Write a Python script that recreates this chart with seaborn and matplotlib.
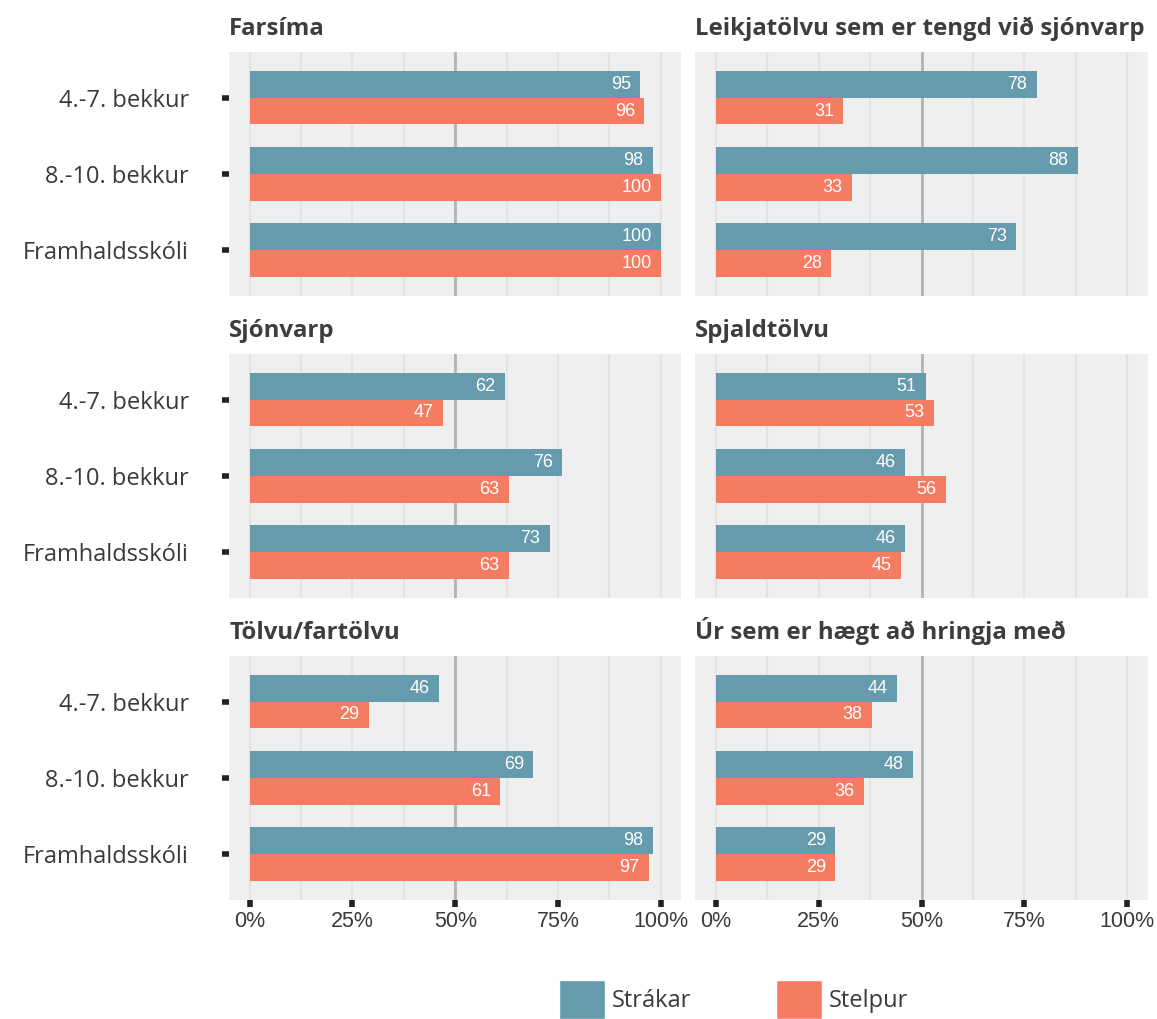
import pandas as pd
import seaborn as sns
import numpy as np
import matplotlib.pyplot as plt
from matplotlib.patches import Patch

# data
flokkar = ["Farsíma", "Leikjatölvu sem er tengd við sjónvarp", "Sjónvarp",
           "Spjaldtölvu", "Tölvu/fartölvu", "Úr sem er hægt að hringja með"]
stig = ["4.-7. bekkur", "8.-10. bekkur", "Framhaldsskóli"]
kyn = ["Strákar", "Stelpur"]

strakar = [[95, 98, 100], [78, 88, 73], [62, 76, 73],
           [51, 46, 46], [46, 69, 98], [44, 48, 29]]
stelpur = [[96, 100, 100], [31, 33, 28], [47, 63, 63],
           [53, 56, 45], [29, 61, 97], [38, 36, 29]]

rows = []
for i, f in enumerate(flokkar):
    for j, s in enumerate(stig):
        rows.append((f, s, kyn[0], strakar[i][j]))
        rows.append((f, s, kyn[1], stelpur[i][j]))
df = pd.DataFrame(rows, columns=["flokkur", "stig", "kyn", "hlutfall"])

colors = {"Strákar": "#669bad", "Stelpur": "#f47c62"}

sns.set_theme(style="white")
plt.rcParams["font.family"] = ["Open Sans", "DejaVu Sans"]

fig, axes = plt.subplots(3, 2, figsize=(11.57, 10.19), dpi=100, sharex=True, sharey=True)
fig.subplots_adjust(left=0.198, right=0.992, top=0.949, bottom=0.117,
                    wspace=0.031, hspace=0.238)

for k, (ax, f) in enumerate(zip(axes.flat, flokkar)):
    d = df[df.flokkur == f]
    ax.set_facecolor("#efefef")
    for x in np.arange(0, 100.1, 12.5):
        ax.axvline(x, color="#e3e3e3", lw=1.5, zorder=0)
    ax.axvline(50, color="#b3b3b3", lw=2, zorder=0.5)
    sns.barplot(data=d, y="stig", x="hlutfall", hue="kyn", order=stig,
                hue_order=kyn, palette=colors, orient="h", width=0.7,
                saturation=1, legend=False, linewidth=0, ax=ax, zorder=2)
    for cont in ax.containers:
        for bar in cont:
            w = bar.get_width()
            yc = bar.get_y() + bar.get_height() / 2
            ax.text(w - 2.3, yc, f"{w:.0f}", ha="right", va="center",
                    color="white", fontsize=13, family="Liberation Sans", zorder=3)
    ax.set_xlim(-5, 105)
    ax.set_ylim(2.6, -0.6)
    ax.set_xticks([0, 25, 50, 75, 100])
    ax.set_xticklabels(["0%", "25%", "50%", "75%", "100%"], family="Liberation Sans")
    ax.set_xlabel("")
    ax.set_ylabel("")
    for sp in ax.spines.values():
        sp.set_visible(False)
    ax.set_title(f, loc="left", fontsize=17.3, fontweight="bold",
                 color="#3d3d3d", pad=12, x=0)
    ax.tick_params(axis="y", length=5, width=4, color="#222222", pad=24,
                   labelsize=17, labelcolor="#3a3a3a", left=(k % 2 == 0))
    ax.tick_params(axis="x", length=5, width=4, color="#222222", pad=3,
                   labelsize=15.5, labelcolor="#3a3a3a", bottom=(k >= 4))

handles = [Patch(facecolor=colors[c], label=c) for c in kyn]
fig.legend(handles=handles, loc="center", bbox_to_anchor=(0.634, 0.019), ncol=2,
           frameon=False, fontsize=17, handlelength=1.95, handleheight=2.2,
           handletextpad=0.3, columnspacing=3.6, labelcolor="#3a3a3a")

fig.savefig("out.png", dpi=100)
